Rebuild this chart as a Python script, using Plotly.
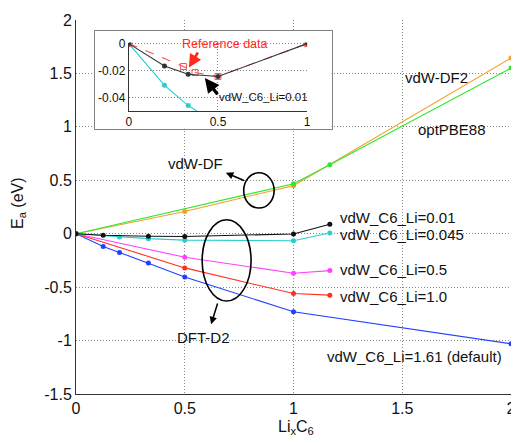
import plotly.graph_objects as go

# ---------------- data ----------------
x_green = [0, 1.0, 1.167, 2.0]            # optPBE88
y_green = [0, 0.467, 0.645, 1.55]
x_orange = [0, 0.5, 1.0, 2.0]             # vdW-DF2 / vdW-DF
y_orange = [0, 0.208, 0.45, 1.645]
x_black = [0, 0.125, 0.333, 0.5, 1.0, 1.167]   # vdW_C6_Li=0.01
y_black = [0, -0.015, -0.024, -0.026, -0.002, 0.088]
x_cyan = [0, 0.2, 0.333, 0.5, 1.0, 1.167]      # vdW_C6_Li=0.045
y_cyan = [0, -0.031, -0.046, -0.06, -0.066, 0.006]
x_magenta = [0, 0.5, 1.0, 1.167]               # vdW_C6_Li=0.5
y_magenta = [0, -0.22, -0.37, -0.345]
x_red = [0, 0.5, 1.0, 1.167]                   # vdW_C6_Li=1.0
y_red = [0, -0.32, -0.56, -0.575]
x_blue = [0, 0.125, 0.2, 0.333, 0.5, 1.0, 2.0]  # vdW_C6_Li=1.61 (default)
y_blue = [0, -0.12, -0.175, -0.275, -0.405, -0.73, -1.03]

# inset data
inset_x_black = [0, 0.2, 0.333, 0.5, 1.0]
inset_y_black = [0, -0.0166, -0.0227, -0.0244, 0]
inset_x_ref = [0, 0.306, 0.371, 0.5, 1.0]
inset_y_ref = [0, -0.017, -0.0215, -0.0244, 0]

x_ticks = [0, 0.5, 1, 1.5, 2]
x_tick_labels = ["0", "0.5", "1", "1.5", "2"]
y_ticks = [-1.5, -1, -0.5, 0, 0.5, 1, 1.5, 2]
y_tick_labels = ["-1.5", "-1", "-0.5", "0", "0.5", "1", "1.5", "2"]
inset_x_ticks = [0, 0.5, 1]
inset_x_tick_labels = ["0", "0.5", "1"]
inset_y_ticks = [-0.04, -0.02, 0]
inset_y_tick_labels = ["-0.04", "-0.02", "0"]

FONT = "Liberation Sans, Arial, Helvetica, sans-serif"
C_GREEN = "#2ee82e"
C_ORANGE = "#f4a030"
C_BLACK = "#111111"
C_CYAN = "#2ccccc"
C_MAGENTA = "#ff40ff"
C_RED = "#ff3020"
C_BLUE = "#2040ff"
C_REF = "#ff5050"
GRID_DASH = "1px,2px"

fig = go.Figure()


def line(x, y, color, xa="x", ya="y", dash="solid", symbol="circle", msize=5, width=1.1):
    fig.add_trace(go.Scatter(
        x=x, y=y, mode="lines+markers", xaxis=xa, yaxis=ya,
        line=dict(color=color, width=width, dash=dash),
        marker=dict(color=color, size=msize, symbol=symbol),
        showlegend=False, hoverinfo="skip"))


# main plot
line(x_orange, y_orange, C_ORANGE)
line(x_green, y_green, C_GREEN)
line(x_blue, y_blue, C_BLUE)
line(x_red, y_red, C_RED)
line(x_magenta, y_magenta, C_MAGENTA)
line(x_cyan, y_cyan, C_CYAN)
line(x_black, y_black, C_BLACK)

# inset box (empty subplot used as white framed background)
fig.add_trace(go.Scatter(x=[None], y=[None], xaxis="x2", yaxis="y2",
                         showlegend=False, hoverinfo="skip"))

# inset plot
line(x_cyan, y_cyan, C_CYAN, "x3", "y3", msize=5)
line(inset_x_ref, inset_y_ref, C_REF, "x3", "y3", dash="dash",
     symbol="square-open", msize=6)
line(inset_x_black, inset_y_black, "#333333", "x3", "y3", msize=5)

grid = dict(showgrid=True, gridcolor="#8a8a8a", gridwidth=1, griddash=GRID_DASH,
            zeroline=False, showline=True, linecolor="#333333", linewidth=1,
            ticks="", tickfont=dict(family=FONT, size=16, color="#111"))

# page has an 8px body margin; figure is sized so that it ends at the window edge
OFF = 8
W, H = 519 - OFF, 443 - OFF
ml, mr, mt, mb = 76 - OFF, 4, 19 - OFF, 49
pw, ph = W - ml - mr, H - mt - mb


def px(xp):  # page pixel -> paper x
    return (xp - OFF - ml) / pw


def py(yp):  # page pixel -> paper y
    return (H - mb - (yp - OFF)) / ph


fig.update_layout(
    width=W, height=H,
    margin=dict(l=ml, r=mr, t=mt, b=mb),
    paper_bgcolor="white", plot_bgcolor="white",
    font=dict(family=FONT, size=15, color="#111"),
    xaxis=dict(range=[0, 2], tickvals=x_ticks, ticktext=x_tick_labels,
               domain=[0, 1], **grid),
    yaxis=dict(range=[-1.5, 2], tickvals=y_ticks, ticktext=y_tick_labels,
               domain=[0, 1], **grid),
    xaxis2=dict(domain=[px(94.7), px(334)], range=[0, 1], anchor="y2",
                showgrid=False, zeroline=False, showticklabels=False,
                showline=True, mirror=True, linecolor="#808080", linewidth=1),
    yaxis2=dict(domain=[py(128), py(30)], range=[0, 1], anchor="x2",
                showgrid=False, zeroline=False, showticklabels=False,
                showline=True, mirror=True, linecolor="#808080", linewidth=1),
    xaxis3=dict(domain=[px(129.3), px(309.3)], range=[0, 1.0], anchor="y3",
                tickvals=inset_x_ticks, ticktext=inset_x_tick_labels,
                showgrid=True, gridcolor="#8a8a8a", griddash=GRID_DASH, zeroline=False,
                showline=True, linecolor="#333333", linewidth=1, ticks="",
                tickfont=dict(family=FONT, size=12, color="#111")),
    yaxis3=dict(domain=[py(110.2), py(41.6)], range=[-0.05, 0.0008], anchor="x3",
                tickvals=inset_y_ticks, ticktext=inset_y_tick_labels,
                showgrid=True, gridcolor="#8a8a8a", griddash=GRID_DASH, zeroline=False,
                showline=True, linecolor="#333333", linewidth=1, ticks="",
                tickfont=dict(family=FONT, size=12, color="#111")),
)

# ellipses
fig.add_shape(type="circle", xref="x", yref="y", x0=0.771, x1=0.911, y0=0.24, y1=0.57,
              line=dict(color="black", width=1.6))
fig.add_shape(type="circle", xref="x", yref="y", x0=0.58, x1=0.805, y0=-0.63, y1=0.13,
              line=dict(color="black", width=1.6))

ann = []
# arrows
ann.append(dict(xref="x", yref="y", axref="x", ayref="y", x=0.689, y=0.571,
                ax=0.779, ay=0.492, text="", showarrow=True, arrowhead=2,
                arrowsize=1, arrowwidth=1.5, arrowcolor="black"))
ann.append(dict(xref="x", yref="y", axref="x", ayref="y", x=0.621, y=-0.848,
                ax=0.653, ay=-0.639, text="", showarrow=True, arrowhead=2,
                arrowsize=1, arrowwidth=1.5, arrowcolor="black"))
ann.append(dict(xref="x3", yref="y3", axref="x3", ayref="y3", x=0.337, y=-0.0178,
                ax=0.392, ay=-0.0055, text="", showarrow=True, arrowhead=2,
                arrowsize=1.0, arrowwidth=2.6, arrowcolor="#ff2a1a"))
ann.append(dict(xref="x3", yref="y3", axref="x3", ayref="y3", x=0.426, y=-0.0256,
                ax=0.504, ay=-0.0387, text="", showarrow=True, arrowhead=2,
                arrowsize=0.9, arrowwidth=3.2, arrowcolor="black"))


# text labels
def label(text, x, y, xanchor="left", size=15, color="#111", xref="x", yref="y"):
    ann.append(dict(xref=xref, yref=yref, x=x, y=y, text=text, showarrow=False,
                    xanchor=xanchor, yanchor="middle",
                    font=dict(family=FONT, size=size, color=color)))


label("vdW-DF2", 1.503, 1.458)
label("optPBE88", 1.564, 0.972)
label("vdW_C6_Li=0.01", 1.203, 0.155)
label("vdW_C6_Li=0.045", 1.203, -0.007)
label("vdW_C6_Li=0.5", 1.203, -0.334)
label("vdW_C6_Li=1.0", 1.203, -0.586)
label("vdW_C6_Li=1.61 (default)", 1.146, -1.153)
label("vdW-DF", 0.55, 0.654, xanchor="center")
label("DFT-D2", 0.588, -0.972, xanchor="center")
label("Reference data", 0.54, 0.0, xanchor="center", size=12.5, color="#ff2a1a",
      xref="x3", yref="y3")
label("vdW_C6_Li=0.01", 0.497, -0.0395, size=11.5, xref="x3", yref="y3")

# axis titles
ann.append(dict(xref="paper", yref="paper", x=px(18), y=py(203), text="E<sub>a</sub> (eV)",
                textangle=-90, showarrow=False, xanchor="center", yanchor="middle",
                font=dict(family=FONT, size=16, color="#111")))
ann.append(dict(xref="paper", yref="paper", x=px(298), y=py(428), text="Li<sub>x</sub>C<sub>6</sub>",
                showarrow=False, xanchor="center", yanchor="middle",
                font=dict(family=FONT, size=16, color="#111")))

fig.update_layout(annotations=ann)
fig.write_html("out.html")
